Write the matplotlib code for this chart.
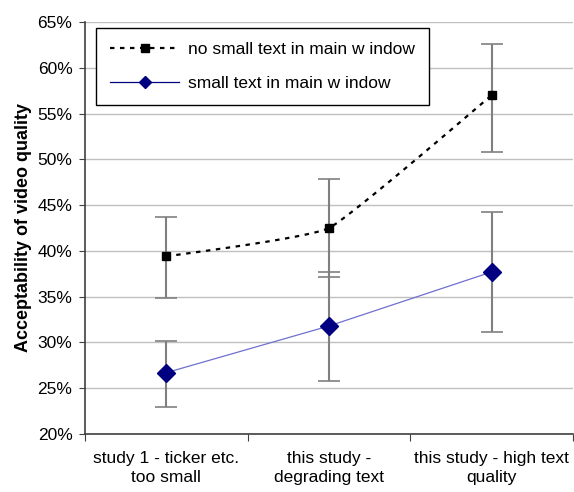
import numpy as np
import matplotlib
matplotlib.use("Agg")
import matplotlib.pyplot as plt
from matplotlib.ticker import FuncFormatter

plt.rcParams['font.family'] = ['Liberation Sans', 'DejaVu Sans']

categories = ["study 1 - ticker etc.\ntoo small",
              "this study -\ndegrading text",
              "this study - high text\nquality"]

# acceptability (%) and error bar ends
no_small = [39.4, 42.5, 57.0]
no_small_hi = [43.7, 47.8, 62.6]
no_small_lo = [34.9, 37.2, 50.8]

small = [26.7, 31.8, 37.7]
small_hi = [30.15, 37.7, 44.2]
small_lo = [23.0, 25.8, 31.1]

labels = ["no small text in main w indow", "small text in main w indow"]


def smooth(xs, ys, k=16.0, n=40):
    # mild bezier smoothing through the points (spreadsheet style "smoothed line")
    p = np.column_stack([xs, ys]).astype(float)
    pts = np.vstack([p[0], p, p[-1]])
    out = []
    for i in range(len(p) - 1):
        p0, p1, p2, p3 = pts[i], pts[i + 1], pts[i + 2], pts[i + 3]
        c1 = p1 + (p2 - p0) / k
        c2 = p2 - (p3 - p1) / k
        t = np.linspace(0, 1, n)[:, None]
        seg = ((1 - t) ** 3) * p1 + 3 * ((1 - t) ** 2) * t * c1 + 3 * (1 - t) * t ** 2 * c2 + t ** 3 * p2
        out.append(seg if i == 0 else seg[1:])
    seg = np.vstack(out)
    return seg[:, 0], seg[:, 1]


x = np.arange(len(categories))
FS = 12.5

fig = plt.figure(figsize=(5.74, 4.92), dpi=100)
ax = fig.add_axes([85 / 574, 1 - 434 / 492, 488 / 574, 412 / 492])

ax.set_xlim(-0.5, 2.5)
ax.set_ylim(20, 65)
ax.set_yticks(np.arange(20, 66, 5))
ax.yaxis.set_major_formatter(FuncFormatter(lambda v, _: "%d%%" % v))
ax.grid(axis='y', color='#c0c0c0', linewidth=1)
ax.set_axisbelow(True)

# error bars: grey stems, black caps
for vals, hi, lo in [(no_small, no_small_hi, no_small_lo), (small, small_hi, small_lo)]:
    v = np.array(vals)
    err = [v - np.array(lo), np.array(hi) - v]
    _, caps, _ = ax.errorbar(x, v, yerr=err, fmt='none', ecolor='#808080',
                             elinewidth=1.5, capsize=8, capthick=1.2, zorder=2)
    for c in caps:
        c.set_color('black')

sx, sy = smooth(x, no_small)
ax.plot(sx, sy, color='black', linestyle=(0, (2, 2.5)), linewidth=1.6, zorder=3)
ax.plot(x, no_small, linestyle='none', marker='s', markersize=6,
        color='black', zorder=4)
# legend proxies
h1, = ax.plot([], [], color='black', linestyle=(0, (2, 2.5)), linewidth=1.6,
              marker='s', markersize=5.5, label=labels[0])

ax.plot(x, small, color='#7070d0', linewidth=0.9, zorder=3)
ax.plot(x, small, linestyle='none', marker='D', markersize=9,
        color='#000080', zorder=4)
h2, = ax.plot([], [], color='#000080', linewidth=0.9, marker='D',
              markersize=6, label=labels[1])

ax.set_xticks([-0.5, 0.5, 1.5, 2.5])
ax.set_xticklabels([])
ax.set_xticks(x, minor=True)
ax.set_xticklabels(categories, minor=True, fontsize=FS, linespacing=1.35)
ax.tick_params(axis='x', which='minor', length=0, pad=12)
ax.tick_params(axis='x', which='major', length=5, color='#404040')
ax.tick_params(axis='y', length=4, color='#404040', labelsize=FS, pad=5)

for s in ['top', 'right']:
    ax.spines[s].set_visible(False)
for s in ['left', 'bottom']:
    ax.spines[s].set_color('#404040')
    ax.spines[s].set_linewidth(1.2)

ax.set_ylabel("Acceptability of video quality", fontsize=13, fontweight='bold',
              labelpad=4)

leg = ax.legend(handles=[h1, h2], loc='upper left',
                bbox_to_anchor=(96 / 574, 1 - 28 / 492),
                bbox_transform=fig.transFigure, fontsize=FS, frameon=True,
                fancybox=False, edgecolor='black', framealpha=1,
                handlelength=4.0, labelspacing=1.1, borderpad=0.8,
                handletextpad=0.5, borderaxespad=0)
leg.get_frame().set_linewidth(1)

fig.savefig("out.png", dpi=100)
